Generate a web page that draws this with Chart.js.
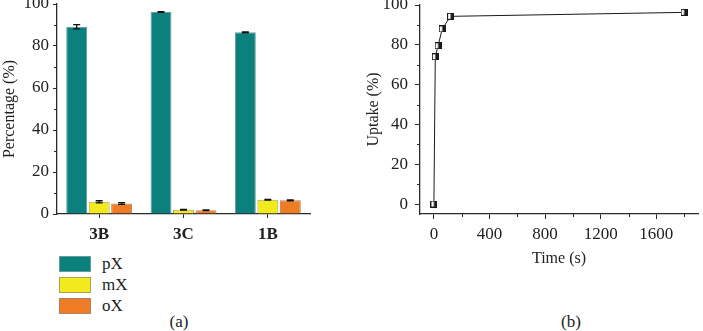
<!DOCTYPE html>
<html>
<head>
<meta charset="utf-8">
<script src="https://cdn.jsdelivr.net/npm/chart.js@4.4.1/dist/chart.umd.min.js"></script>
<style>
  body { margin: 0; background: #fff; width: 703px; height: 331px; position: relative; overflow: hidden;
         font-family: 'Liberation Serif', 'DejaVu Serif', serif; color: #222; }
  #boxA { position: absolute; left: 0; top: 0; }
  #boxB { position: absolute; left: 360px; top: 0; }
  .legend { position: absolute; left: 59px; top: 253px; }
  .item { display: flex; align-items: center; height: 21px; font-size: 17px; }
  .sw { width: 32px; height: 16px; margin-right: 11px; box-sizing: border-box; border: 1px solid; }
  .cap { position: absolute; top: 312px; font-size: 17px; transform: translateX(-50%); }
</style>
</head>
<body>
<div id="boxA"><canvas id="chartA" width="330" height="240"></canvas></div>
<div id="boxB"><canvas id="chartB" width="343" height="270"></canvas></div>
<div class="legend" id="legendA"></div>
<div class="cap" style="left:179px">(a)</div>
<div class="cap" style="left:571px">(b)</div>

<script>
// (a) composicion por muestra
const categorias = ['3B', '3C', '1B'];
const series = ['pX', 'mX', 'oX'];
const pX = [89.2, 96.2, 86.5];
const mX = [5.8, 2.0, 6.8];
const oX = [5.0, 1.8, 6.5];
const pXErr = [1.0, 0.2, 0.2];
const mXErr = [0.5, 0.2, 0.2];
const oXErr = [0.4, 0.2, 0.2];

// (b) cinetica de captacion
const tiempos = [0, 10, 30, 60, 120, 1800];
const captacion = [0, 74, 79.5, 88, 94.3, 96.3];

// ticks
const pctTicks = [0, 20, 40, 60, 80, 100];
const pctMinor = [10, 30, 50, 70, 90];
const timeTicks = [0, 400, 800, 1200, 1600];
const timeMinor = [200, 600, 1000, 1400, 1800];

const colores = {
  pX: { fill: '#0b807d', edge: '#5f9f9d' },
  mX: { fill: '#f3ea1e', edge: '#a9a45c' },
  oX: { fill: '#ef7c24', edge: '#b58061' },
};
const ink = '#2a2a2a';
const fontFam = "'Liberation Serif', 'DejaVu Serif', serif";

// ticks menores dibujados sobre las escalas
const minorTicks = {
  id: 'minorTicks',
  afterDraw(chart, args, opts) {
    const ctx = chart.ctx;
    ctx.save();
    ctx.strokeStyle = ink;
    ctx.lineWidth = 1;
    const sy = chart.scales.y;
    (opts.y || []).forEach(v => {
      const p = Math.round(sy.getPixelForValue(v)) + 0.5;
      ctx.beginPath(); ctx.moveTo(sy.right, p); ctx.lineTo(sy.right - 3, p); ctx.stroke();
    });
    const sx = chart.scales.x;
    (opts.x || []).forEach(v => {
      const p = Math.round(sx.getPixelForValue(v)) + 0.5;
      ctx.beginPath(); ctx.moveTo(p, sx.top); ctx.lineTo(p, sx.top + 3); ctx.stroke();
    });
    ctx.restore();
  }
};

// barras de error
const errorBars = {
  id: 'errorBars',
  afterDatasetsDraw(chart, args, opts) {
    const ctx = chart.ctx;
    const sy = chart.scales.y;
    ctx.save();
    ctx.strokeStyle = '#111';
    ctx.lineWidth = 1.3;
    chart.data.datasets.forEach((ds, i) => {
      const meta = chart.getDatasetMeta(i);
      meta.data.forEach((bar, j) => {
        const e = ds.errores[j];
        const hi = sy.getPixelForValue(ds.data[j] + e);
        const lo = sy.getPixelForValue(ds.data[j] - e);
        const x = bar.x;
        ctx.beginPath();
        ctx.moveTo(x, hi); ctx.lineTo(x, lo);
        ctx.moveTo(x - 3.5, hi); ctx.lineTo(x + 3.5, hi);
        ctx.moveTo(x - 3.5, lo); ctx.lineTo(x + 3.5, lo);
        ctx.stroke();
      });
    });
    ctx.restore();
  }
};

function fijarEje(w, h) {
  return scale => {
    if (w != null) scale.width = w;
    if (h != null) scale.height = h;
    scale.paddingTop = 0; scale.paddingBottom = 0;
    scale.paddingLeft = 0; scale.paddingRight = 0;
  };
}

const tickFont = { family: fontFam, size: 17 };

new Chart(document.getElementById('chartA'), {
  type: 'bar',
  data: {
    labels: categorias,
    datasets: [
      { label: 'pX', data: pX, errores: pXErr },
      { label: 'mX', data: mX, errores: mXErr },
      { label: 'oX', data: oX, errores: oXErr },
    ].map(ds => ({
      ...ds,
      backgroundColor: colores[ds.label].fill,
      borderColor: colores[ds.label].edge,
      borderWidth: 1,
      categoryPercentage: 0.8,
      barPercentage: 0.93,
    })),
  },
  options: {
    responsive: false,
    devicePixelRatio: 1,
    animation: false,
    layout: { padding: { top: 4, right: 20, left: 0, bottom: 0 } },
    plugins: {
      legend: { display: false },
      tooltip: { enabled: false },
      minorTicks: { y: pctMinor },
    },
    scales: {
      x: {
        grid: { display: true, drawOnChartArea: false, offset: false, tickLength: 4, color: ink },
        border: { display: true, color: ink, width: 1.3 },
        ticks: { color: '#222', padding: 6, font: { ...tickFont, weight: 'bold' } },
        afterFit: fijarEje(null, 26),
      },
      y: {
        min: 0, max: 100,
        afterBuildTicks: s => { s.ticks = pctTicks.map(v => ({ value: v })); },
        grid: { display: true, drawOnChartArea: false, tickLength: 4, color: ink },
        border: { display: true, color: ink, width: 1.3 },
        ticks: { color: '#222', padding: 4, font: tickFont, callback: v => String(v) },
        title: { display: true, text: 'Percentage (%)', color: '#222', font: { family: fontFam, size: 16 }, padding: { top: 0, bottom: 0 } },
        afterFit: fijarEje(57, null),
      },
    },
  },
  plugins: [minorTicks, errorBars],
});

// marcador cuadrado mitad blanco / mitad negro
const marca = document.createElement('canvas');
marca.width = 7; marca.height = 7;
(() => {
  const c = marca.getContext('2d');
  c.fillStyle = '#fff'; c.fillRect(0, 0, 7, 7);
  c.fillStyle = '#1a1a1a'; c.fillRect(3.5, 0, 3.5, 7);
  c.strokeStyle = '#1a1a1a'; c.lineWidth = 1; c.strokeRect(0.5, 0.5, 6, 6);
})();

new Chart(document.getElementById('chartB'), {
  type: 'line',
  data: {
    datasets: [{
      label: 'Uptake',
      data: tiempos.map((t, i) => ({ x: t, y: captacion[i] })),
      borderColor: '#1a1a1a',
      borderWidth: 1,
      pointStyle: marca,
      pointRadius: 4,
      tension: 0,
    }],
  },
  options: {
    responsive: false,
    devicePixelRatio: 1,
    animation: false,
    layout: { padding: { top: 4, right: 0, left: 0, bottom: 0 } },
    plugins: {
      legend: { display: false },
      tooltip: { enabled: false },
      minorTicks: { y: pctMinor, x: timeMinor },
    },
    scales: {
      x: {
        type: 'linear',
        min: -100, max: 1900,
        afterBuildTicks: s => { s.ticks = timeTicks.map(v => ({ value: v })); },
        grid: { display: true, drawOnChartArea: false, tickLength: 5, color: ink },
        border: { display: true, color: ink, width: 1.3 },
        ticks: { color: '#222', padding: 5, font: tickFont, callback: v => String(v) },
        title: { display: true, text: 'Time (s)', color: '#222', font: { family: fontFam, size: 16 }, padding: { top: 0, bottom: 2 } },
        afterFit: fijarEje(null, 56),
      },
      y: {
        min: -5, max: 100,
        afterBuildTicks: s => { s.ticks = pctTicks.map(v => ({ value: v })); },
        grid: { display: true, drawOnChartArea: false, tickLength: 5, color: ink },
        border: { display: true, color: ink, width: 1.3 },
        ticks: { color: '#222', padding: 7, font: tickFont, callback: v => String(v) },
        title: { display: true, text: 'Uptake (%)', color: '#222', font: { family: fontFam, size: 16 }, padding: { top: 4, bottom: 0 } },
        afterFit: fijarEje(60, null),
      },
    },
  },
  plugins: [minorTicks],
});

// leyenda (a)
const leg = document.getElementById('legendA');
series.forEach(s => {
  const it = document.createElement('div');
  it.className = 'item';
  it.innerHTML = `<span class="sw" style="background:${colores[s].fill};border-color:${colores[s].edge}"></span><span>${s}</span>`;
  leg.appendChild(it);
});
</script>
</body>
</html>
